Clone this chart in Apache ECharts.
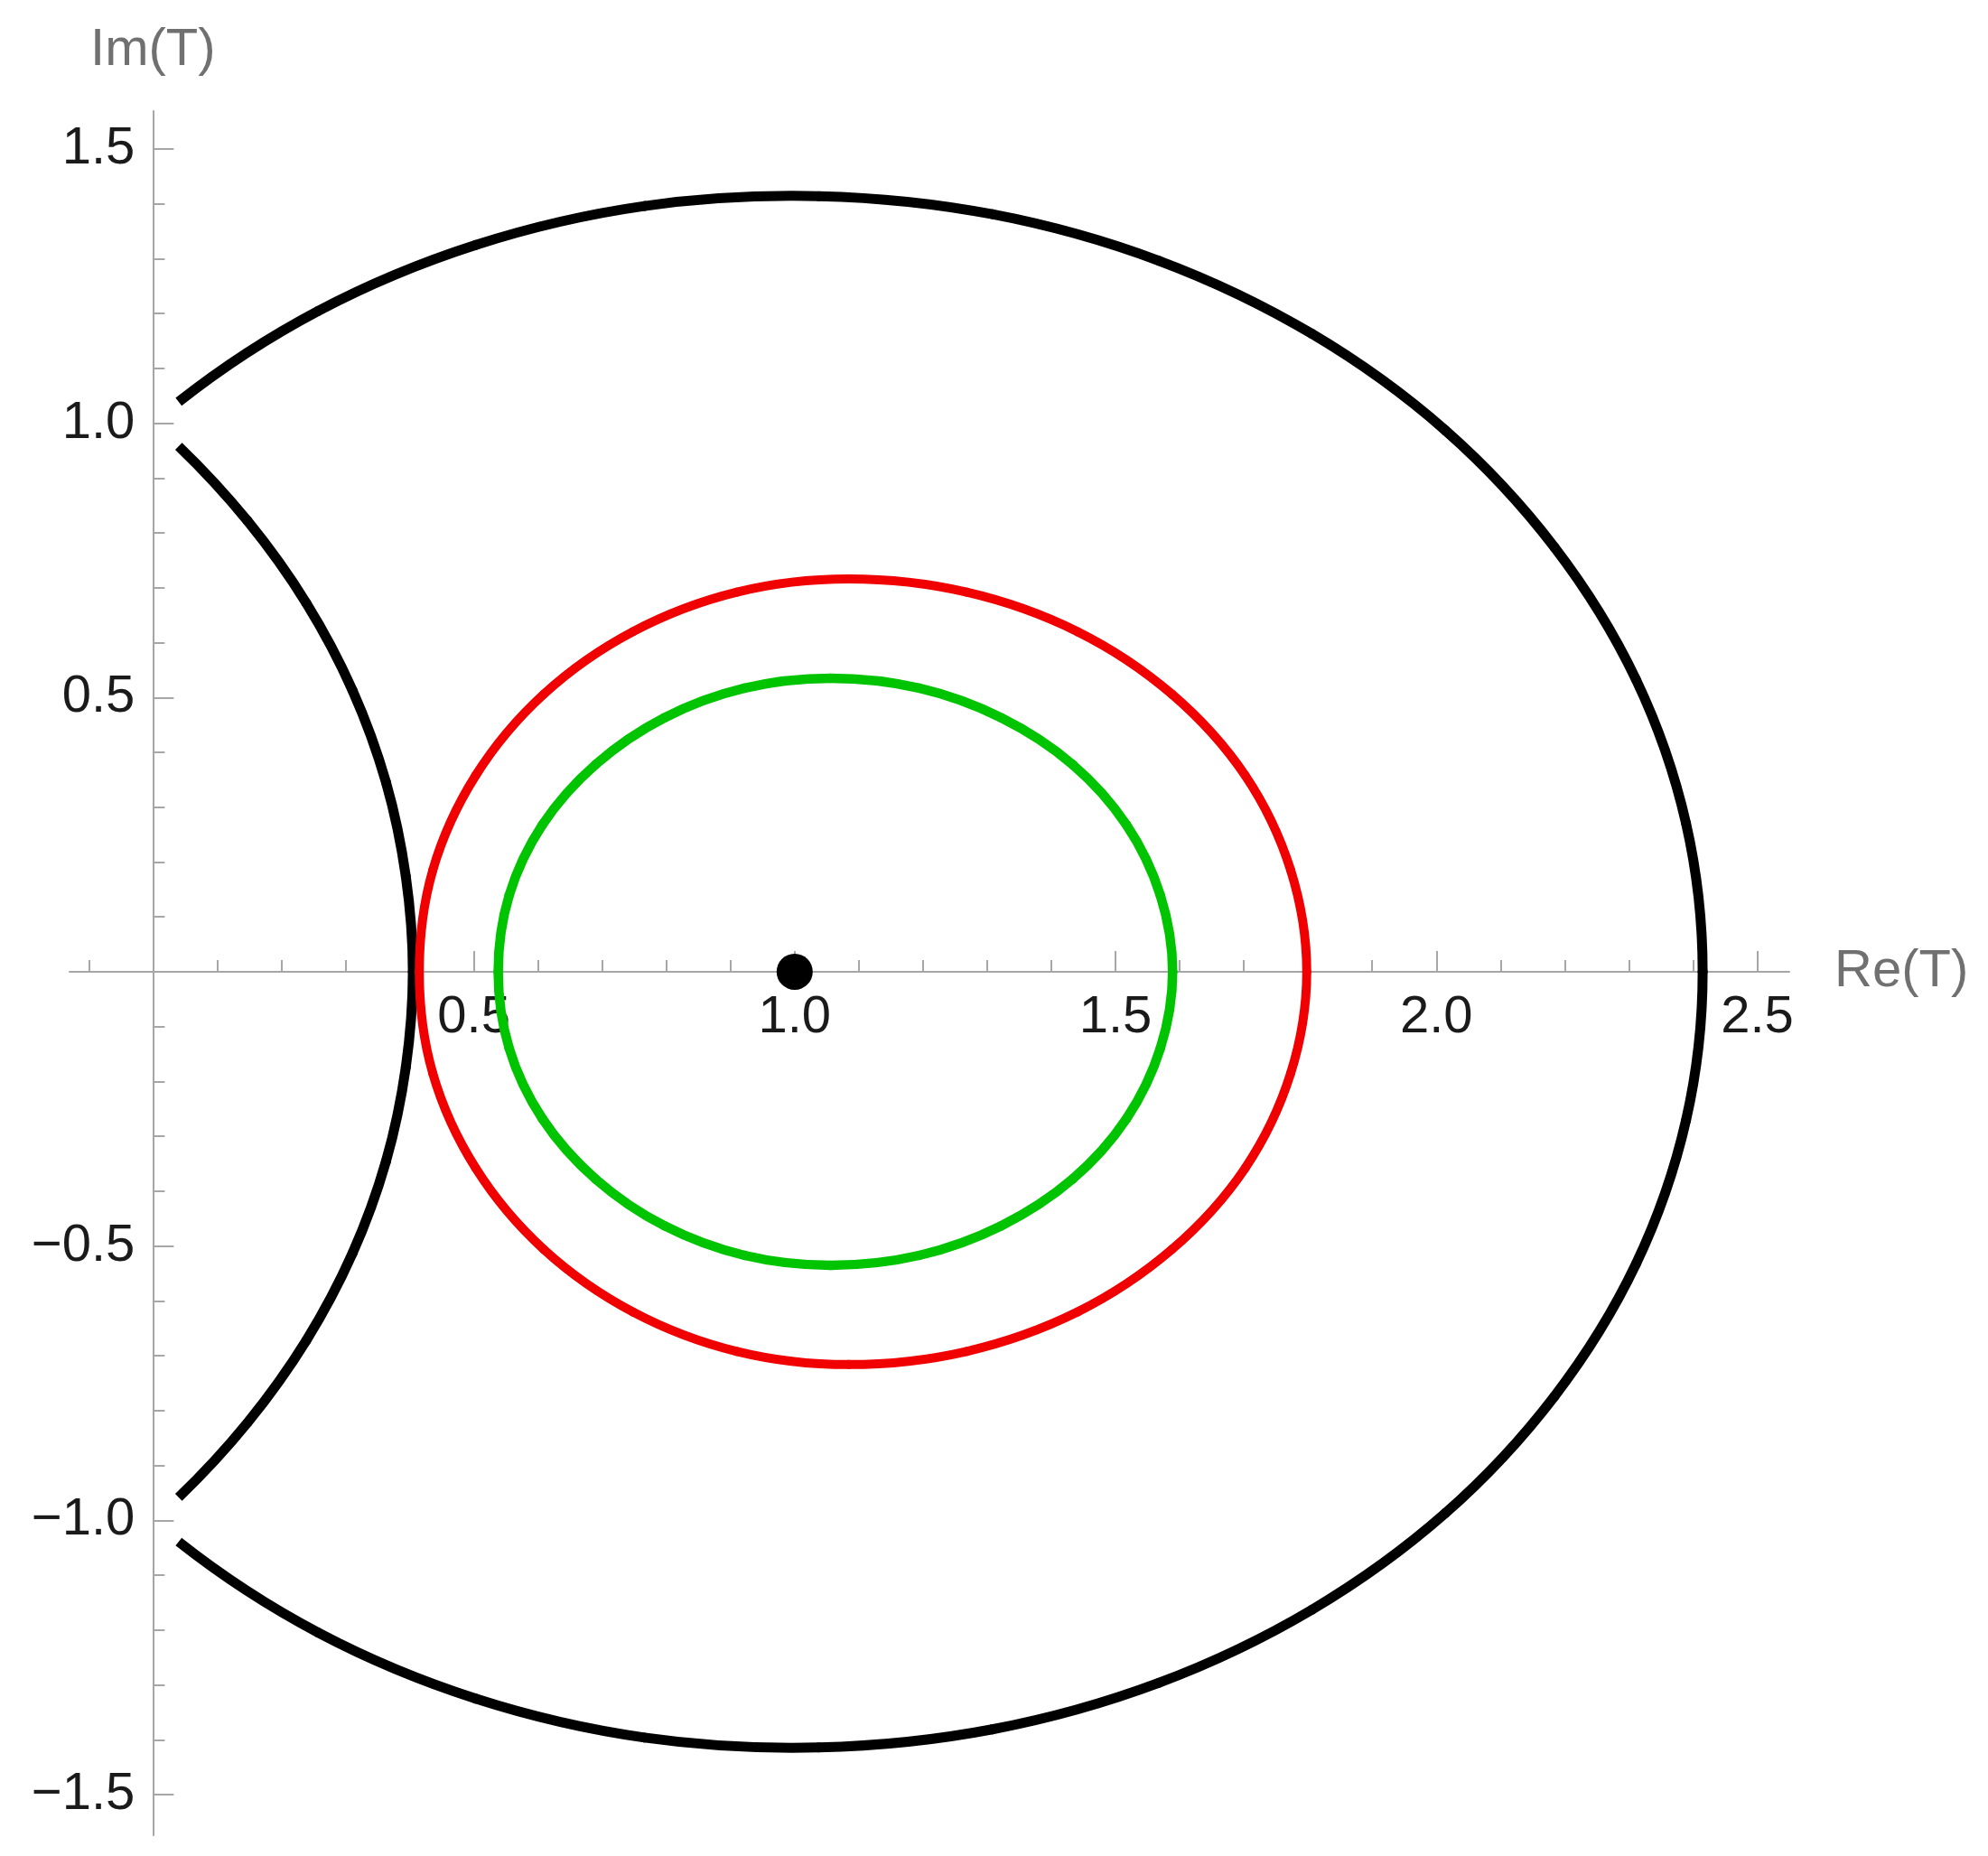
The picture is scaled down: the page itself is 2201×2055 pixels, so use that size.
<!DOCTYPE html>
<html>
<head>
<meta charset="utf-8">
<title>Re(T) / Im(T)</title>
<script src="https://cdn.jsdelivr.net/npm/echarts@6/dist/echarts.min.js"></script>
<style>
  html, body { margin: 0; padding: 0; background: #fff; }
</style>
</head>
<body>
<div id="main" style="width: 2201px;height:2055px;"></div>
<script type="text/javascript">
// axis ranges and ticks
var xRange = [-0.13, 2.55];
var yRange = [-1.574, 1.569];
var xMajorTicks = [0.5, 1.0, 1.5, 2.0, 2.5];
var xMinorTicks = [-0.1, 0.1, 0.2, 0.3, 0.4, 0.6, 0.7, 0.8, 0.9, 1.1, 1.2, 1.3, 1.4, 1.6, 1.7, 1.8, 1.9, 2.1, 2.2, 2.3, 2.4];
var yMajorTicks = [-1.5, -1.0, -0.5, 0.5, 1.0, 1.5];
var yMinorTicks = [-1.4, -1.3, -1.2, -1.1, -0.9, -0.8, -0.7, -0.6, -0.4, -0.3, -0.2, -0.1,
                   0.1, 0.2, 0.3, 0.4, 0.6, 0.7, 0.8, 0.9, 1.1, 1.2, 1.3, 1.4];

// curves, [Re, Im]
var blackOuterArc = [
    [0.040, -1.039], [0.258, -1.205], [0.503, -1.325], [0.766, -1.396], [1.038, -1.414],
    [1.308, -1.381], [1.568, -1.296], [1.806, -1.163], [2.014, -0.987], [2.184, -0.774],
    [2.311, -0.533], [2.389, -0.271], [2.415, 0], [2.389, 0.271], [2.311, 0.533],
    [2.184, 0.774], [2.014, 0.987], [1.806, 1.163], [1.568, 1.296], [1.308, 1.381],
    [1.038, 1.414], [0.766, 1.396], [0.503, 1.325], [0.258, 1.205], [0.040, 1.039]
];
var blackInnerArc = [
    [0.040, -0.958], [0.148, -0.821], [0.239, -0.672], [0.311, -0.513], [0.363, -0.346],
    [0.394, -0.174], [0.405, 0], [0.394, 0.174], [0.363, 0.346], [0.311, 0.513],
    [0.239, 0.672], [0.148, 0.821], [0.040, 0.958]
];
// closed loops
var redCurve = [
    [1.798, 0], [1.773, 0.185], [1.702, 0.358], [1.588, 0.506], [1.441, 0.620],
    [1.268, 0.692], [1.084, 0.716], [0.910, 0.692], [0.748, 0.620], [0.609, 0.506], [0.503, 0.358],
    [0.436, 0.185], [0.415, 0], [0.436, -0.185], [0.503, -0.358], [0.609, -0.506], [0.748, -0.620],
    [0.910, -0.692], [1.084, -0.716], [1.268, -0.692], [1.441, -0.620], [1.588, -0.506],
    [1.702, -0.358], [1.773, -0.185]
];
var greenCurve = [
    [1.589, 0], [1.570, 0.139], [1.517, 0.268], [1.433, 0.378], [1.322, 0.463],
    [1.194, 0.517], [1.056, 0.535], [0.922, 0.517], [0.797, 0.463], [0.690, 0.378], [0.607, 0.268],
    [0.555, 0.139], [0.538, 0], [0.555, -0.139], [0.607, -0.268], [0.690, -0.378], [0.797, -0.463],
    [0.922, -0.517], [1.056, -0.535], [1.194, -0.517], [1.322, -0.463], [1.433, -0.378],
    [1.517, -0.268], [1.570, -0.139]
];
var centerPoint = [[1.0, 0]];

var font = '"Liberation Sans", Arial, sans-serif';
var axisGray = '#a6a6a6';

// grid box (px)
var W = 2201, H = 2055;
var gLeft = 77, gRight = 220, gTop = 123, gBottom = 23;
var gW = W - gLeft - gRight, gH = H - gTop - gBottom;
// axes cross at the origin: shift them from the grid edges
var xAxisShift = -(0 - yRange[0]) / (yRange[1] - yRange[0]) * gH;
var yAxisShift = -(0 - xRange[0]) / (xRange[1] - xRange[0]) * gW;

function fmt(v) {
    return v.toFixed(1).replace('-', '\u2212');
}

// catmull-rom spline through the read points, mapped by the axes
function curve(points, closed, color, width) {
    return {
        type: 'custom',
        data: points,
        renderItem: function (params, api) {
            if (params.dataIndex !== 0) return null;
            var p = points.map(function (d) { return api.coord(d); });
            var n = p.length;
            var get = function (i) {
                if (closed) return p[(i + n) % n];
                // open ends: extend by the curve's own bend
                if (i < 0) return [3 * p[0][0] - 3 * p[1][0] + p[2][0], 3 * p[0][1] - 3 * p[1][1] + p[2][1]];
                if (i >= n) return [3 * p[n - 1][0] - 3 * p[n - 2][0] + p[n - 3][0], 3 * p[n - 1][1] - 3 * p[n - 2][1] + p[n - 3][1]];
                return p[i];
            };
            var style = { stroke: color, lineWidth: width, fill: 'none', lineCap: 'round' };
            var kids = [];
            var segs = closed ? n : n - 1;
            for (var i = 0; i < segs; i++) {
                var a = get(i - 1), b = get(i), c = get(i + 1), d = get(i + 2);
                kids.push({
                    type: 'bezierCurve',
                    shape: {
                        x1: b[0], y1: b[1], x2: c[0], y2: c[1],
                        cpx1: b[0] + (c[0] - a[0]) / 6, cpy1: b[1] + (c[1] - a[1]) / 6,
                        cpx2: c[0] - (d[0] - b[0]) / 6, cpy2: c[1] - (d[1] - b[1]) / 6
                    },
                    style: style
                });
            }
            if (!closed) {
                // keep the arc ends cut square
                kids[0].style = { stroke: color, lineWidth: width, fill: 'none', lineCap: 'butt' };
                kids[kids.length - 1].style = { stroke: color, lineWidth: width, fill: 'none', lineCap: 'butt' };
            }
            return { type: 'group', children: kids };
        }
    };
}

var myChart = echarts.init(document.getElementById('main'));

var option = {
    animation: false,
    backgroundColor: '#fff',
    grid: {
        left: gLeft, right: gRight, top: gTop, bottom: gBottom,
        containLabel: false,
        outerBoundsMode: 'none'
    },
    xAxis: [{
        type: 'value',
        min: xRange[0], max: xRange[1],
        position: 'bottom',
        offset: xAxisShift,
        name: 'Re(T)',
        nameLocation: 'end',
        nameGap: 50,
        nameTextStyle: { color: '#707070', fontSize: 58, fontFamily: font },
        axisLine: { show: true, onZero: false, lineStyle: { color: axisGray, width: 2 } },
        axisTick: { show: true, inside: true, length: 23, customValues: xMajorTicks, lineStyle: { color: axisGray, width: 2 } },
        axisLabel: { show: true, customValues: xMajorTicks, margin: 22, color: '#1a1a1a', fontSize: 58, fontFamily: font, formatter: fmt },
        splitLine: { show: false }
    }, {
        // minor ticks
        type: 'value',
        min: xRange[0], max: xRange[1],
        position: 'bottom',
        offset: xAxisShift,
        axisLine: { show: false, onZero: false },
        axisTick: { show: true, inside: true, length: 13, customValues: xMinorTicks, lineStyle: { color: axisGray, width: 2 } },
        axisLabel: { show: false },
        splitLine: { show: false }
    }],
    yAxis: [{
        type: 'value',
        min: yRange[0], max: yRange[1],
        position: 'left',
        offset: yAxisShift,
        name: 'Im(T)',
        nameLocation: 'end',
        nameGap: 38,
        nameTextStyle: { color: '#707070', fontSize: 58, fontFamily: font },
        axisLine: { show: true, onZero: false, lineStyle: { color: axisGray, width: 2 } },
        axisTick: { show: true, inside: true, length: 23, customValues: yMajorTicks, lineStyle: { color: axisGray, width: 2 } },
        axisLabel: { show: true, customValues: yMajorTicks, margin: 20, color: '#1a1a1a', fontSize: 58, fontFamily: font, formatter: fmt },
        splitLine: { show: false }
    }, {
        type: 'value',
        min: yRange[0], max: yRange[1],
        position: 'left',
        offset: yAxisShift,
        axisLine: { show: false, onZero: false },
        axisTick: { show: true, inside: true, length: 13, customValues: yMinorTicks, lineStyle: { color: axisGray, width: 2 } },
        axisLabel: { show: false },
        splitLine: { show: false }
    }],
    series: [
        curve(blackOuterArc, false, '#000', 11),
        curve(blackInnerArc, false, '#000', 11),
        curve(redCurve, true, '#f00000', 10),
        curve(greenCurve, true, '#00c400', 10.5),
        {
            type: 'scatter',
            data: centerPoint,
            symbol: 'circle',
            symbolSize: 40,
            itemStyle: { color: '#000', opacity: 1 }
        }
    ]
};

myChart.setOption(option);
</script>
</body>
</html>
